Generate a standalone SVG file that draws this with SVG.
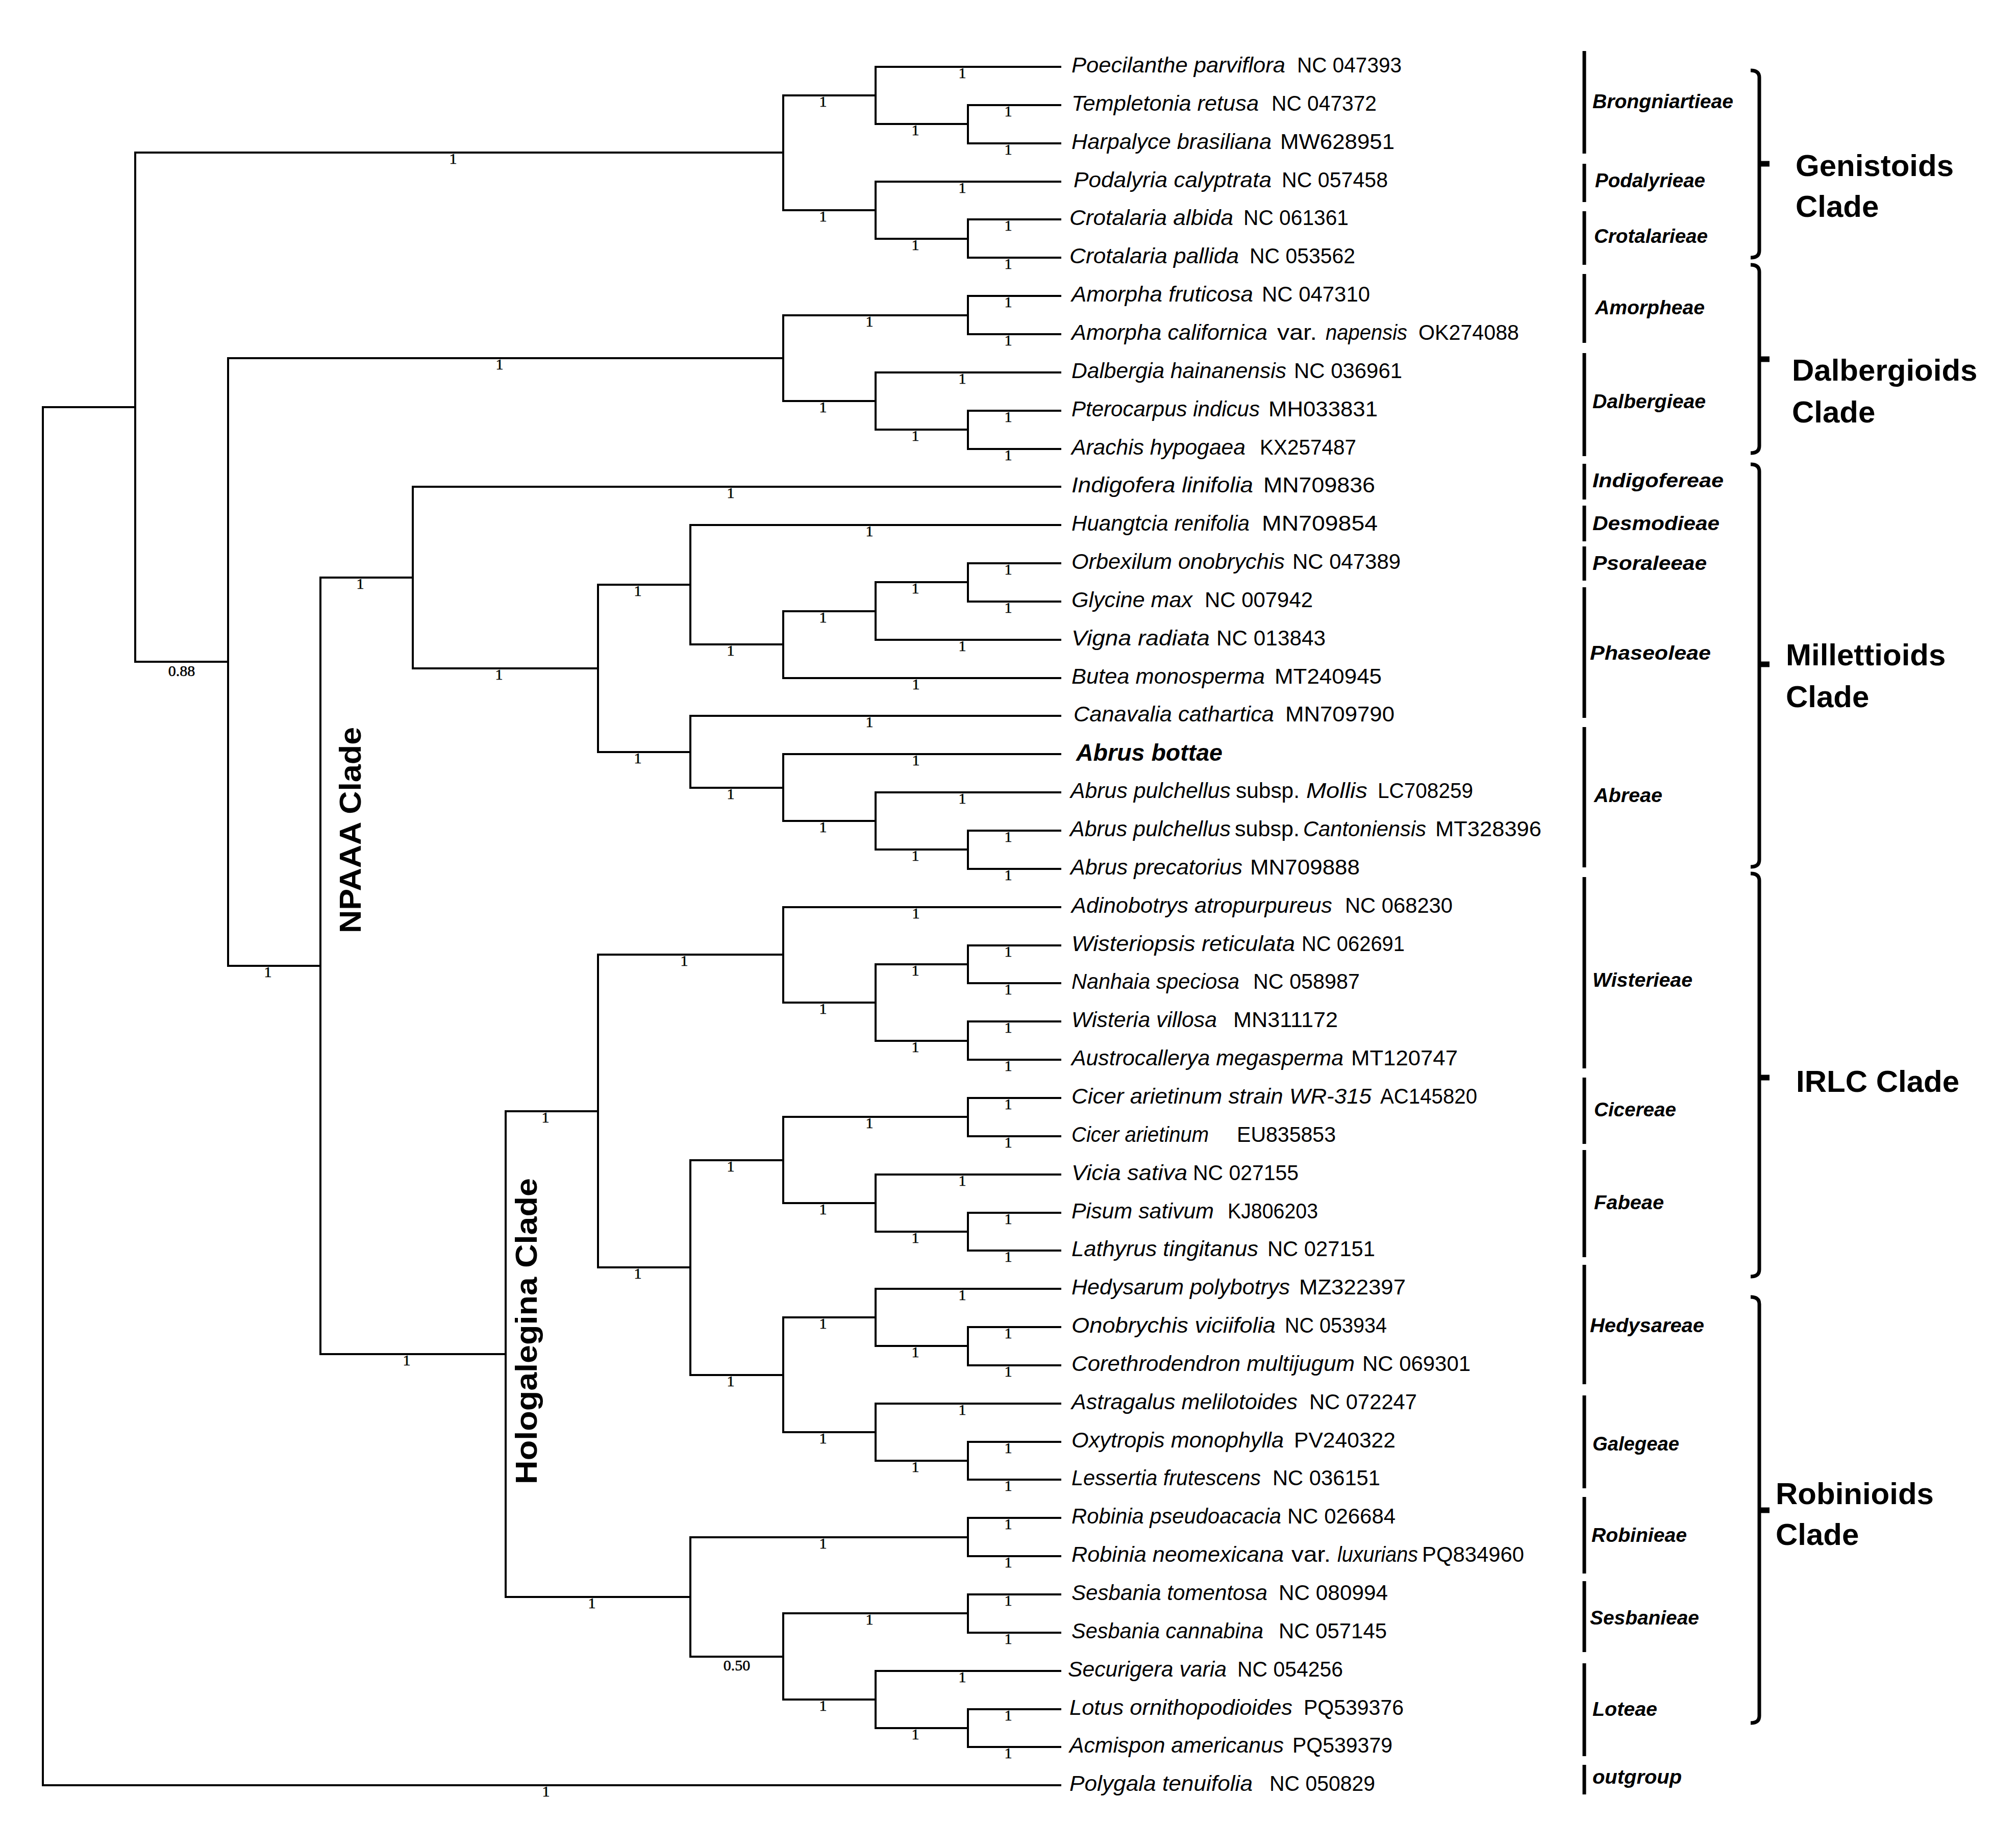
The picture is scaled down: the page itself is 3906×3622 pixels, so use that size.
<svg xmlns="http://www.w3.org/2000/svg" width="3906" height="3622" viewBox="0 0 3906 3622">
<style>
.br{fill:none;stroke:#000;stroke-width:4;stroke-linejoin:miter}
.sup{font-family:"Liberation Serif","Times New Roman",serif;font-size:30px;text-anchor:middle;fill:#000;stroke:#000;stroke-width:0.6}
.sp{font-family:"Liberation Sans",Arial,sans-serif;font-size:42px;font-style:italic;fill:#000}
.acc{font-family:"Liberation Sans",Arial,sans-serif;font-size:42px;fill:#000}
.bold{font-weight:bold;font-size:46px}
.bar{fill:none;stroke:#000;stroke-width:7}
.tribe{font-family:"Liberation Sans",Arial,sans-serif;font-size:38px;font-weight:bold;font-style:italic;fill:#000}
.brace{fill:none;stroke:#000;stroke-width:7}
.tick{fill:none;stroke:#000;stroke-width:11}
.clade{font-family:"Liberation Sans",Arial,sans-serif;font-size:60px;font-weight:bold;fill:#000}
</style>
<rect width="3906" height="3622" fill="#fff"/>
<g id="connectors">
<path class="br" d="M265 798 H84 V3499 H2080"/>
<path class="br" d="M1535 299 H265 V1297 H447"/>
<path class="br" d="M1716 187 H1535 V412 H1716"/>
<path class="br" d="M2080 131 H1716 V243 H1897"/>
<path class="br" d="M2080 206 H1897 V281 H2080"/>
<path class="br" d="M2080 356 H1716 V468 H1897"/>
<path class="br" d="M2080 430 H1897 V505 H2080"/>
<path class="br" d="M1535 702 H447 V1893 H628"/>
<path class="br" d="M1897 618 H1535 V786 H1716"/>
<path class="br" d="M2080 580 H1897 V655 H2080"/>
<path class="br" d="M2080 730 H1716 V842 H1897"/>
<path class="br" d="M2080 805 H1897 V880 H2080"/>
<path class="br" d="M809 1132 H628 V2654 H991"/>
<path class="br" d="M2080 954 H809 V1310 H1172"/>
<path class="br" d="M1353 1146 H1172 V1474 H1353"/>
<path class="br" d="M2080 1029 H1353 V1263 H1535"/>
<path class="br" d="M1716 1198 H1535 V1329 H2080"/>
<path class="br" d="M1897 1141 H1716 V1254 H2080"/>
<path class="br" d="M2080 1104 H1897 V1179 H2080"/>
<path class="br" d="M2080 1403 H1353 V1544 H1535"/>
<path class="br" d="M2080 1478 H1535 V1609 H1716"/>
<path class="br" d="M2080 1553 H1716 V1665 H1897"/>
<path class="br" d="M2080 1628 H1897 V1703 H2080"/>
<path class="br" d="M1172 2178 H991 V3130 H1353"/>
<path class="br" d="M1535 1871 H1172 V2484 H1353"/>
<path class="br" d="M2080 1778 H1535 V1965 H1716"/>
<path class="br" d="M1897 1890 H1716 V2040 H1897"/>
<path class="br" d="M2080 1853 H1897 V1927 H2080"/>
<path class="br" d="M2080 2002 H1897 V2077 H2080"/>
<path class="br" d="M1535 2274 H1353 V2695 H1535"/>
<path class="br" d="M1897 2189 H1535 V2358 H1716"/>
<path class="br" d="M2080 2152 H1897 V2227 H2080"/>
<path class="br" d="M2080 2302 H1716 V2414 H1897"/>
<path class="br" d="M2080 2377 H1897 V2451 H2080"/>
<path class="br" d="M1716 2582 H1535 V2807 H1716"/>
<path class="br" d="M2080 2526 H1716 V2638 H1897"/>
<path class="br" d="M2080 2601 H1897 V2676 H2080"/>
<path class="br" d="M2080 2751 H1716 V2863 H1897"/>
<path class="br" d="M2080 2826 H1897 V2900 H2080"/>
<path class="br" d="M1897 3013 H1353 V3247 H1535"/>
<path class="br" d="M2080 2975 H1897 V3050 H2080"/>
<path class="br" d="M1897 3162 H1535 V3331 H1716"/>
<path class="br" d="M2080 3125 H1897 V3200 H2080"/>
<path class="br" d="M2080 3275 H1716 V3387 H1897"/>
<path class="br" d="M2080 3350 H1897 V3424 H2080"/>
</g>
<g id="support-values">
<text class="sup" x="888" y="321">1</text>
<text class="sup" x="356" y="1325">0.88</text>
<text class="sup" x="1613" y="209">1</text>
<text class="sup" x="1613" y="434">1</text>
<text class="sup" x="1886" y="153">1</text>
<text class="sup" x="1794" y="265">1</text>
<text class="sup" x="1976" y="228">1</text>
<text class="sup" x="1976" y="303">1</text>
<text class="sup" x="1886" y="378">1</text>
<text class="sup" x="1794" y="490">1</text>
<text class="sup" x="1976" y="452">1</text>
<text class="sup" x="1976" y="527">1</text>
<text class="sup" x="979" y="724">1</text>
<text class="sup" x="525" y="1915">1</text>
<text class="sup" x="1704" y="640">1</text>
<text class="sup" x="1613" y="808">1</text>
<text class="sup" x="1976" y="602">1</text>
<text class="sup" x="1976" y="677">1</text>
<text class="sup" x="1886" y="752">1</text>
<text class="sup" x="1794" y="864">1</text>
<text class="sup" x="1976" y="827">1</text>
<text class="sup" x="1976" y="902">1</text>
<text class="sup" x="706" y="1154">1</text>
<text class="sup" x="797" y="2676">1</text>
<text class="sup" x="1432" y="976">1</text>
<text class="sup" x="978" y="1332">1</text>
<text class="sup" x="1250" y="1168">1</text>
<text class="sup" x="1250" y="1496">1</text>
<text class="sup" x="1704" y="1051">1</text>
<text class="sup" x="1432" y="1285">1</text>
<text class="sup" x="1613" y="1220">1</text>
<text class="sup" x="1795" y="1351">1</text>
<text class="sup" x="1794" y="1163">1</text>
<text class="sup" x="1886" y="1276">1</text>
<text class="sup" x="1976" y="1126">1</text>
<text class="sup" x="1976" y="1201">1</text>
<text class="sup" x="1704" y="1425">1</text>
<text class="sup" x="1432" y="1566">1</text>
<text class="sup" x="1795" y="1500">1</text>
<text class="sup" x="1613" y="1631">1</text>
<text class="sup" x="1886" y="1575">1</text>
<text class="sup" x="1794" y="1687">1</text>
<text class="sup" x="1976" y="1650">1</text>
<text class="sup" x="1976" y="1725">1</text>
<text class="sup" x="1069" y="2200">1</text>
<text class="sup" x="1160" y="3152">1</text>
<text class="sup" x="1341" y="1893">1</text>
<text class="sup" x="1250" y="2506">1</text>
<text class="sup" x="1795" y="1800">1</text>
<text class="sup" x="1613" y="1987">1</text>
<text class="sup" x="1794" y="1912">1</text>
<text class="sup" x="1794" y="2062">1</text>
<text class="sup" x="1976" y="1875">1</text>
<text class="sup" x="1976" y="1949">1</text>
<text class="sup" x="1976" y="2024">1</text>
<text class="sup" x="1976" y="2099">1</text>
<text class="sup" x="1432" y="2296">1</text>
<text class="sup" x="1432" y="2717">1</text>
<text class="sup" x="1704" y="2211">1</text>
<text class="sup" x="1613" y="2380">1</text>
<text class="sup" x="1976" y="2174">1</text>
<text class="sup" x="1976" y="2249">1</text>
<text class="sup" x="1886" y="2324">1</text>
<text class="sup" x="1794" y="2436">1</text>
<text class="sup" x="1976" y="2399">1</text>
<text class="sup" x="1976" y="2473">1</text>
<text class="sup" x="1613" y="2604">1</text>
<text class="sup" x="1613" y="2829">1</text>
<text class="sup" x="1886" y="2548">1</text>
<text class="sup" x="1794" y="2660">1</text>
<text class="sup" x="1976" y="2623">1</text>
<text class="sup" x="1976" y="2698">1</text>
<text class="sup" x="1886" y="2773">1</text>
<text class="sup" x="1794" y="2885">1</text>
<text class="sup" x="1976" y="2848">1</text>
<text class="sup" x="1976" y="2922">1</text>
<text class="sup" x="1613" y="3035">1</text>
<text class="sup" x="1444" y="3274">0.50</text>
<text class="sup" x="1976" y="2997">1</text>
<text class="sup" x="1976" y="3072">1</text>
<text class="sup" x="1704" y="3184">1</text>
<text class="sup" x="1613" y="3353">1</text>
<text class="sup" x="1976" y="3147">1</text>
<text class="sup" x="1976" y="3222">1</text>
<text class="sup" x="1886" y="3297">1</text>
<text class="sup" x="1794" y="3409">1</text>
<text class="sup" x="1976" y="3372">1</text>
<text class="sup" x="1976" y="3446">1</text>
<text class="sup" x="1070" y="3521">1</text>
</g>
<g id="taxa">
<g id="t-poecilanthe"><text class="sp" x="2100" y="142" textLength="419" lengthAdjust="spacingAndGlyphs">Poecilanthe parviflora</text><text class="acc" x="2542" y="142" textLength="205" lengthAdjust="spacingAndGlyphs">NC 047393</text></g>
<g id="t-templetonia"><text class="sp" x="2100" y="217" textLength="367" lengthAdjust="spacingAndGlyphs">Templetonia retusa</text><text class="acc" x="2492" y="217" textLength="206" lengthAdjust="spacingAndGlyphs">NC 047372</text></g>
<g id="t-harpalyce"><text class="sp" x="2100" y="292" textLength="392" lengthAdjust="spacingAndGlyphs">Harpalyce brasiliana</text><text class="acc" x="2509" y="292" textLength="224" lengthAdjust="spacingAndGlyphs">MW628951</text></g>
<g id="t-podalyria"><text class="sp" x="2104" y="367" textLength="388" lengthAdjust="spacingAndGlyphs">Podalyria calyptrata</text><text class="acc" x="2512" y="367" textLength="208" lengthAdjust="spacingAndGlyphs">NC 057458</text></g>
<g id="t-crotalaria-albida"><text class="sp" x="2096" y="441" textLength="321" lengthAdjust="spacingAndGlyphs">Crotalaria albida</text><text class="acc" x="2437" y="441" textLength="206" lengthAdjust="spacingAndGlyphs">NC 061361</text></g>
<g id="t-crotalaria-pallida"><text class="sp" x="2096" y="516" textLength="332" lengthAdjust="spacingAndGlyphs">Crotalaria pallida</text><text class="acc" x="2449" y="516" textLength="207" lengthAdjust="spacingAndGlyphs">NC 053562</text></g>
<g id="t-amorpha-fruticosa"><text class="sp" x="2100" y="591" textLength="356" lengthAdjust="spacingAndGlyphs">Amorpha fruticosa</text><text class="acc" x="2473" y="591" textLength="212" lengthAdjust="spacingAndGlyphs">NC 047310</text></g>
<g id="t-amorpha-californica"><text class="sp" x="2100" y="666" textLength="384" lengthAdjust="spacingAndGlyphs">Amorpha californica</text><text class="acc" x="2503" y="666" textLength="78" lengthAdjust="spacingAndGlyphs">var.</text><text class="sp" x="2598" y="666" textLength="160" lengthAdjust="spacingAndGlyphs">napensis</text><text class="acc" x="2780" y="666" textLength="197" lengthAdjust="spacingAndGlyphs">OK274088</text></g>
<g id="t-dalbergia"><text class="sp" x="2100" y="741" textLength="421" lengthAdjust="spacingAndGlyphs">Dalbergia hainanensis</text><text class="acc" x="2536" y="741" textLength="212" lengthAdjust="spacingAndGlyphs">NC 036961</text></g>
<g id="t-pterocarpus"><text class="sp" x="2100" y="816" textLength="369" lengthAdjust="spacingAndGlyphs">Pterocarpus indicus</text><text class="acc" x="2486" y="816" textLength="214" lengthAdjust="spacingAndGlyphs">MH033831</text></g>
<g id="t-arachis"><text class="sp" x="2100" y="891" textLength="341" lengthAdjust="spacingAndGlyphs">Arachis hypogaea</text><text class="acc" x="2469" y="891" textLength="189" lengthAdjust="spacingAndGlyphs">KX257487</text></g>
<g id="t-indigofera"><text class="sp" x="2100" y="965" textLength="356" lengthAdjust="spacingAndGlyphs">Indigofera linifolia</text><text class="acc" x="2476" y="965" textLength="219" lengthAdjust="spacingAndGlyphs">MN709836</text></g>
<g id="t-huangtcia"><text class="sp" x="2100" y="1040" textLength="349" lengthAdjust="spacingAndGlyphs">Huangtcia renifolia</text><text class="acc" x="2473" y="1040" textLength="227" lengthAdjust="spacingAndGlyphs">MN709854</text></g>
<g id="t-orbexilum"><text class="sp" x="2100" y="1115" textLength="418" lengthAdjust="spacingAndGlyphs">Orbexilum onobrychis</text><text class="acc" x="2533" y="1115" textLength="212" lengthAdjust="spacingAndGlyphs">NC 047389</text></g>
<g id="t-glycine"><text class="sp" x="2100" y="1190" textLength="237" lengthAdjust="spacingAndGlyphs">Glycine max</text><text class="acc" x="2361" y="1190" textLength="212" lengthAdjust="spacingAndGlyphs">NC 007942</text></g>
<g id="t-vigna"><text class="sp" x="2100" y="1265" textLength="271" lengthAdjust="spacingAndGlyphs">Vigna radiata</text><text class="acc" x="2384" y="1265" textLength="214" lengthAdjust="spacingAndGlyphs">NC 013843</text></g>
<g id="t-butea"><text class="sp" x="2100" y="1340" textLength="379" lengthAdjust="spacingAndGlyphs">Butea monosperma</text><text class="acc" x="2498" y="1340" textLength="210" lengthAdjust="spacingAndGlyphs">MT240945</text></g>
<g id="t-canavalia"><text class="sp" x="2104" y="1414" textLength="393" lengthAdjust="spacingAndGlyphs">Canavalia cathartica</text><text class="acc" x="2519" y="1414" textLength="214" lengthAdjust="spacingAndGlyphs">MN709790</text></g>
<g id="t-abrus-bottae"><text class="sp bold" x="2109" y="1491" textLength="287" lengthAdjust="spacingAndGlyphs">Abrus bottae</text></g>
<g id="t-abrus-mollis"><text class="sp" x="2098" y="1564" textLength="314" lengthAdjust="spacingAndGlyphs">Abrus pulchellus</text><text class="acc" x="2422" y="1564" textLength="125" lengthAdjust="spacingAndGlyphs">subsp.</text><text class="sp" x="2560" y="1564" textLength="120" lengthAdjust="spacingAndGlyphs">Mollis</text><text class="acc" x="2700" y="1564" textLength="187" lengthAdjust="spacingAndGlyphs">LC708259</text></g>
<g id="t-abrus-cantoniensis"><text class="sp" x="2097" y="1639" textLength="315" lengthAdjust="spacingAndGlyphs">Abrus pulchellus</text><text class="acc" x="2420" y="1639" textLength="127" lengthAdjust="spacingAndGlyphs">subsp.</text><text class="sp" x="2554" y="1639" textLength="241" lengthAdjust="spacingAndGlyphs">Cantoniensis</text><text class="acc" x="2813" y="1639" textLength="208" lengthAdjust="spacingAndGlyphs">MT328396</text></g>
<g id="t-abrus-precatorius"><text class="sp" x="2098" y="1714" textLength="337" lengthAdjust="spacingAndGlyphs">Abrus precatorius</text><text class="acc" x="2450" y="1714" textLength="215" lengthAdjust="spacingAndGlyphs">MN709888</text></g>
<g id="t-adinobotrys"><text class="sp" x="2100" y="1789" textLength="511" lengthAdjust="spacingAndGlyphs">Adinobotrys atropurpureus</text><text class="acc" x="2636" y="1789" textLength="211" lengthAdjust="spacingAndGlyphs">NC 068230</text></g>
<g id="t-wisteriopsis"><text class="sp" x="2100" y="1864" textLength="438" lengthAdjust="spacingAndGlyphs">Wisteriopsis reticulata</text><text class="acc" x="2551" y="1864" textLength="202" lengthAdjust="spacingAndGlyphs">NC 062691</text></g>
<g id="t-nanhaia"><text class="sp" x="2100" y="1938" textLength="329" lengthAdjust="spacingAndGlyphs">Nanhaia speciosa</text><text class="acc" x="2456" y="1938" textLength="209" lengthAdjust="spacingAndGlyphs">NC 058987</text></g>
<g id="t-wisteria"><text class="sp" x="2100" y="2013" textLength="285" lengthAdjust="spacingAndGlyphs">Wisteria villosa</text><text class="acc" x="2417" y="2013" textLength="205" lengthAdjust="spacingAndGlyphs">MN311172</text></g>
<g id="t-austrocallerya"><text class="sp" x="2100" y="2088" textLength="533" lengthAdjust="spacingAndGlyphs">Austrocallerya megasperma</text><text class="acc" x="2648" y="2088" textLength="209" lengthAdjust="spacingAndGlyphs">MT120747</text></g>
<g id="t-cicer-wr315"><text class="sp" x="2100" y="2163" textLength="588" lengthAdjust="spacingAndGlyphs">Cicer arietinum strain WR-315</text><text class="acc" x="2705" y="2163" textLength="190" lengthAdjust="spacingAndGlyphs">AC145820</text></g>
<g id="t-cicer"><text class="sp" x="2100" y="2238" textLength="269" lengthAdjust="spacingAndGlyphs">Cicer arietinum</text><text class="acc" x="2424" y="2238" textLength="194" lengthAdjust="spacingAndGlyphs">EU835853</text></g>
<g id="t-vicia"><text class="sp" x="2100" y="2313" textLength="227" lengthAdjust="spacingAndGlyphs">Vicia sativa</text><text class="acc" x="2338" y="2313" textLength="207" lengthAdjust="spacingAndGlyphs">NC 027155</text></g>
<g id="t-pisum"><text class="sp" x="2100" y="2388" textLength="279" lengthAdjust="spacingAndGlyphs">Pisum sativum</text><text class="acc" x="2406" y="2388" textLength="177" lengthAdjust="spacingAndGlyphs">KJ806203</text></g>
<g id="t-lathyrus"><text class="sp" x="2100" y="2462" textLength="366" lengthAdjust="spacingAndGlyphs">Lathyrus tingitanus</text><text class="acc" x="2484" y="2462" textLength="211" lengthAdjust="spacingAndGlyphs">NC 027151</text></g>
<g id="t-hedysarum"><text class="sp" x="2100" y="2537" textLength="428" lengthAdjust="spacingAndGlyphs">Hedysarum polybotrys</text><text class="acc" x="2546" y="2537" textLength="209" lengthAdjust="spacingAndGlyphs">MZ322397</text></g>
<g id="t-onobrychis"><text class="sp" x="2100" y="2612" textLength="400" lengthAdjust="spacingAndGlyphs">Onobrychis viciifolia</text><text class="acc" x="2518" y="2612" textLength="200" lengthAdjust="spacingAndGlyphs">NC 053934</text></g>
<g id="t-corethrodendron"><text class="sp" x="2100" y="2687" textLength="555" lengthAdjust="spacingAndGlyphs">Corethrodendron multijugum</text><text class="acc" x="2670" y="2687" textLength="212" lengthAdjust="spacingAndGlyphs">NC 069301</text></g>
<g id="t-astragalus"><text class="sp" x="2100" y="2762" textLength="443" lengthAdjust="spacingAndGlyphs">Astragalus melilotoides</text><text class="acc" x="2566" y="2762" textLength="211" lengthAdjust="spacingAndGlyphs">NC 072247</text></g>
<g id="t-oxytropis"><text class="sp" x="2100" y="2837" textLength="416" lengthAdjust="spacingAndGlyphs">Oxytropis monophylla</text><text class="acc" x="2536" y="2837" textLength="199" lengthAdjust="spacingAndGlyphs">PV240322</text></g>
<g id="t-lessertia"><text class="sp" x="2100" y="2911" textLength="371" lengthAdjust="spacingAndGlyphs">Lessertia frutescens</text><text class="acc" x="2494" y="2911" textLength="211" lengthAdjust="spacingAndGlyphs">NC 036151</text></g>
<g id="t-robinia-pseudoacacia"><text class="sp" x="2100" y="2986" textLength="411" lengthAdjust="spacingAndGlyphs">Robinia pseudoacacia</text><text class="acc" x="2523" y="2986" textLength="212" lengthAdjust="spacingAndGlyphs">NC 026684</text></g>
<g id="t-robinia-neomexicana"><text class="sp" x="2100" y="3061" textLength="416" lengthAdjust="spacingAndGlyphs">Robinia neomexicana</text><text class="acc" x="2531" y="3061" textLength="77" lengthAdjust="spacingAndGlyphs">var.</text><text class="sp" x="2621" y="3061" textLength="158" lengthAdjust="spacingAndGlyphs">luxurians</text><text class="acc" x="2787" y="3061" textLength="200" lengthAdjust="spacingAndGlyphs">PQ834960</text></g>
<g id="t-sesbania-tomentosa"><text class="sp" x="2100" y="3136" textLength="384" lengthAdjust="spacingAndGlyphs">Sesbania tomentosa</text><text class="acc" x="2506" y="3136" textLength="214" lengthAdjust="spacingAndGlyphs">NC 080994</text></g>
<g id="t-sesbania-cannabina"><text class="sp" x="2100" y="3211" textLength="376" lengthAdjust="spacingAndGlyphs">Sesbania cannabina</text><text class="acc" x="2506" y="3211" textLength="212" lengthAdjust="spacingAndGlyphs">NC 057145</text></g>
<g id="t-securigera"><text class="sp" x="2093" y="3286" textLength="311" lengthAdjust="spacingAndGlyphs">Securigera varia</text><text class="acc" x="2425" y="3286" textLength="207" lengthAdjust="spacingAndGlyphs">NC 054256</text></g>
<g id="t-lotus"><text class="sp" x="2096" y="3361" textLength="437" lengthAdjust="spacingAndGlyphs">Lotus ornithopodioides</text><text class="acc" x="2555" y="3361" textLength="196" lengthAdjust="spacingAndGlyphs">PQ539376</text></g>
<g id="t-acmispon"><text class="sp" x="2096" y="3435" textLength="420" lengthAdjust="spacingAndGlyphs">Acmispon americanus</text><text class="acc" x="2533" y="3435" textLength="196" lengthAdjust="spacingAndGlyphs">PQ539379</text></g>
<g id="t-polygala"><text class="sp" x="2096" y="3510" textLength="359" lengthAdjust="spacingAndGlyphs">Polygala tenuifolia</text><text class="acc" x="2488" y="3510" textLength="207" lengthAdjust="spacingAndGlyphs">NC 050829</text></g>
</g>
<g id="tribes">
<g id="tr-brongniartieae"><line class="bar" x1="3105" y1="100" x2="3105" y2="301"/><text class="tribe" x="3121" y="212" textLength="276" lengthAdjust="spacingAndGlyphs">Brongniartieae</text></g>
<g id="tr-podalyrieae"><line class="bar" x1="3105" y1="321" x2="3105" y2="396"/><text class="tribe" x="3126" y="367" textLength="216" lengthAdjust="spacingAndGlyphs">Podalyrieae</text></g>
<g id="tr-crotalarieae"><line class="bar" x1="3105" y1="414" x2="3105" y2="519"/><text class="tribe" x="3124" y="476" textLength="223" lengthAdjust="spacingAndGlyphs">Crotalarieae</text></g>
<g id="tr-amorpheae"><line class="bar" x1="3105" y1="537" x2="3105" y2="672"/><text class="tribe" x="3126" y="616" textLength="215" lengthAdjust="spacingAndGlyphs">Amorpheae</text></g>
<g id="tr-dalbergieae"><line class="bar" x1="3105" y1="692" x2="3105" y2="894"/><text class="tribe" x="3121" y="800" textLength="222" lengthAdjust="spacingAndGlyphs">Dalbergieae</text></g>
<g id="tr-indigofereae"><line class="bar" x1="3105" y1="909" x2="3105" y2="979"/><text class="tribe" x="3121" y="955" textLength="257" lengthAdjust="spacingAndGlyphs">Indigofereae</text></g>
<g id="tr-desmodieae"><line class="bar" x1="3105" y1="991" x2="3105" y2="1061"/><text class="tribe" x="3121" y="1039" textLength="249" lengthAdjust="spacingAndGlyphs">Desmodieae</text></g>
<g id="tr-psoraleeae"><line class="bar" x1="3105" y1="1071" x2="3105" y2="1138"/><text class="tribe" x="3121" y="1117" textLength="224" lengthAdjust="spacingAndGlyphs">Psoraleeae</text></g>
<g id="tr-phaseoleae"><line class="bar" x1="3105" y1="1151" x2="3105" y2="1407"/><text class="tribe" x="3116" y="1293" textLength="237" lengthAdjust="spacingAndGlyphs">Phaseoleae</text></g>
<g id="tr-abreae"><line class="bar" x1="3105" y1="1425" x2="3105" y2="1700"/><text class="tribe" x="3124" y="1572" textLength="134" lengthAdjust="spacingAndGlyphs">Abreae</text></g>
<g id="tr-wisterieae"><line class="bar" x1="3105" y1="1719" x2="3105" y2="2094"/><text class="tribe" x="3121" y="1934" textLength="196" lengthAdjust="spacingAndGlyphs">Wisterieae</text></g>
<g id="tr-cicereae"><line class="bar" x1="3105" y1="2112" x2="3105" y2="2242"/><text class="tribe" x="3124" y="2188" textLength="161" lengthAdjust="spacingAndGlyphs">Cicereae</text></g>
<g id="tr-fabeae"><line class="bar" x1="3105" y1="2254" x2="3105" y2="2464"/><text class="tribe" x="3124" y="2370" textLength="137" lengthAdjust="spacingAndGlyphs">Fabeae</text></g>
<g id="tr-hedysareae"><line class="bar" x1="3105" y1="2479" x2="3105" y2="2713"/><text class="tribe" x="3116" y="2611" textLength="224" lengthAdjust="spacingAndGlyphs">Hedysareae</text></g>
<g id="tr-galegeae"><line class="bar" x1="3105" y1="2735" x2="3105" y2="2917"/><text class="tribe" x="3121" y="2843" textLength="170" lengthAdjust="spacingAndGlyphs">Galegeae</text></g>
<g id="tr-robinieae"><line class="bar" x1="3105" y1="2934" x2="3105" y2="3084"/><text class="tribe" x="3119" y="3022" textLength="187" lengthAdjust="spacingAndGlyphs">Robinieae</text></g>
<g id="tr-sesbanieae"><line class="bar" x1="3105" y1="3099" x2="3105" y2="3238"/><text class="tribe" x="3116" y="3184" textLength="214" lengthAdjust="spacingAndGlyphs">Sesbanieae</text></g>
<g id="tr-loteae"><line class="bar" x1="3105" y1="3260" x2="3105" y2="3442"/><text class="tribe" x="3121" y="3363" textLength="127" lengthAdjust="spacingAndGlyphs">Loteae</text></g>
<g id="tr-outgroup"><line class="bar" x1="3105" y1="3459" x2="3105" y2="3517"/><text class="tribe" x="3121" y="3496" textLength="175" lengthAdjust="spacingAndGlyphs">outgroup</text></g>
</g>
<g id="clades">
<g id="cl-genistoids"><path class="brace" d="M3431 138 Q3448 138 3448 152 V491 Q3448 505 3431 505"/><path class="tick" d="M3448 321 H3468"/><text class="clade" x="3519" y="345">Genistoids</text><text class="clade" x="3519" y="425">Clade</text></g>
<g id="cl-dalbergioids"><path class="brace" d="M3431 519 Q3448 519 3448 533 V874 Q3448 888 3431 888"/><path class="tick" d="M3448 704 H3468"/><text class="clade" x="3512" y="746">Dalbergioids</text><text class="clade" x="3512" y="828">Clade</text></g>
<g id="cl-millettioids"><path class="brace" d="M3431 910 Q3448 910 3448 924 V1685 Q3448 1699 3431 1699"/><path class="tick" d="M3448 1302 H3468"/><text class="clade" x="3500" y="1304">Millettioids</text><text class="clade" x="3500" y="1386">Clade</text></g>
<g id="cl-irlc"><path class="brace" d="M3431 1712 Q3448 1712 3448 1726 V2488 Q3448 2502 3431 2502"/><path class="tick" d="M3448 2112 H3468"/><text class="clade" x="3520" y="2140">IRLC Clade</text></g>
<g id="cl-robinioids"><path class="brace" d="M3431 2542 Q3448 2542 3448 2556 V3363 Q3448 3377 3431 3377"/><path class="tick" d="M3448 2960 H3468"/><text class="clade" x="3480" y="2948">Robinioids</text><text class="clade" x="3480" y="3028">Clade</text></g>
<g id="cl-npaaa"><text class="clade" transform="translate(707,1627) rotate(-90)" text-anchor="middle" textLength="404" lengthAdjust="spacingAndGlyphs">NPAAA Clade</text></g>
<g id="cl-hologalegina"><text class="clade" transform="translate(1052,2609) rotate(-90)" text-anchor="middle" textLength="600" lengthAdjust="spacingAndGlyphs">Hologalegina Clade</text></g>
</g>
</svg>
